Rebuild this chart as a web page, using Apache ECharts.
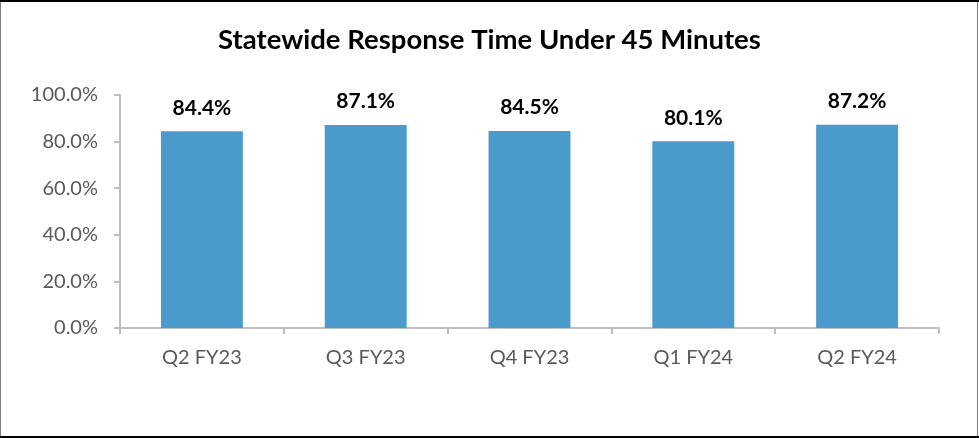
<!DOCTYPE html>
<html>
<head>
<meta charset="utf-8">
<script src="https://cdn.jsdelivr.net/npm/echarts@6/dist/echarts.min.js"></script>
<style>
html,body{margin:0;padding:0;background:#fff;}
#chart{width:979px;height:438px;}
</style>
</head>
<body>
<div id="chart"></div>
<script>
const categories = ['Q2 FY23', 'Q3 FY23', 'Q4 FY23', 'Q1 FY24', 'Q2 FY24'];
const values = [84.4, 87.1, 84.5, 80.1, 87.2];
const yTicks = [0, 20, 40, 60, 80, 100];
const titleText = 'Statewide Response Time Under 45 Minutes';

const chart = echarts.init(document.getElementById('chart'), null, {renderer: 'canvas'});
chart.setOption({
  animation: false,
  backgroundColor: '#ffffff',
  title: {
    text: titleText,
    left: 'center',
    top: 21,
    textStyle: {fontFamily: 'Lato', fontWeight: 'bold', fontSize: 27.5, color: '#000'}
  },
  graphic: [
    {type: 'rect', shape: {x: 0.5, y: 0.5, width: 977, height: 436}, style: {fill: 'none', stroke: '#808080', lineWidth: 1}, z: 100},
    {type: 'rect', shape: {x: 0, y: 0, width: 979, height: 2}, style: {fill: '#000'}, z: 101},
    {type: 'rect', shape: {x: 0, y: 436, width: 979, height: 2}, style: {fill: '#000'}, z: 101}
  ],
  grid: {left: 120, right: 40, top: 95, bottom: 110, containLabel: false},
  xAxis: {
    type: 'category',
    data: categories,
    axisLine: {lineStyle: {color: '#bfbfbf', width: 2}},
    axisTick: {show: true, length: 6, lineStyle: {color: '#bfbfbf', width: 2}},
    axisLabel: {color: '#595959', fontFamily: 'Lato', fontSize: 20, margin: 20}
  },
  yAxis: {
    type: 'value',
    min: 0, max: 100, interval: 20,
    axisLine: {show: true, lineStyle: {color: '#bfbfbf', width: 2}},
    axisTick: {show: true, length: 6, lineStyle: {color: '#bfbfbf', width: 2}},
    splitLine: {show: false},
    axisLabel: {color: '#595959', fontFamily: 'Lato', fontSize: 20, margin: 22,
      formatter: v => yTicks.includes(v) ? v.toFixed(1) + '%' : ''}
  },
  series: [{
    type: 'bar',
    data: values,
    barWidth: '50%',
    itemStyle: {color: '#4a9acb'},
    label: {show: true, position: 'top', distance: 13, color: '#000', fontFamily: 'Lato', fontWeight: 'bold', fontSize: 21,
      formatter: p => p.value.toFixed(1) + '%'}
  }]
});
</script>
</body>
</html>
